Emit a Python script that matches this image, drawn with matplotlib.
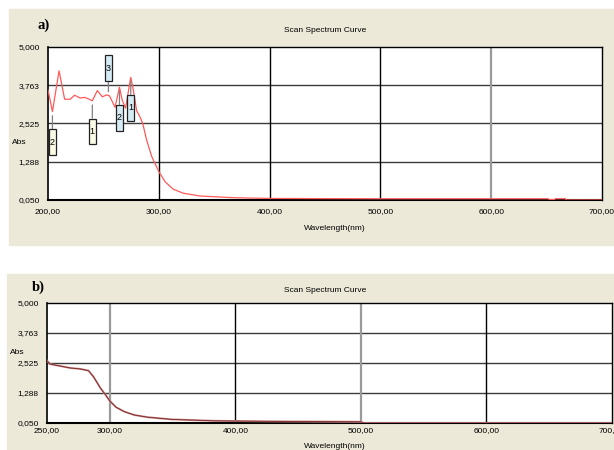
import numpy as np
import matplotlib.pyplot as plt
from matplotlib.patches import Rectangle
from matplotlib.ticker import FuncFormatter

# panel a) spectrum, 200-700 nm
wl_a = [200, 204, 210, 215, 220, 224, 229, 233, 236, 240, 244.5, 249, 253, 255.5,
        260.5, 264.5, 267, 270, 274.7, 277, 280, 283, 285.5, 289, 293.7, 300,
        305.7, 313, 322, 337, 367, 400, 450, 500, 550, 600, 651, 653, 657, 658,
        667, 668, 700]
abs_a = [3.61, 2.91, 4.23, 3.31, 3.31, 3.44, 3.35, 3.37, 3.33, 3.26, 3.59, 3.39,
         3.45, 3.42, 3.05, 3.70, 3.28, 3.02, 4.02, 3.61, 2.94, 2.74, 2.53, 1.99,
         1.45, 0.97, 0.64, 0.40, 0.27, 0.18, 0.125, 0.10, 0.095, 0.09, 0.09,
         0.09, 0.09, 0.065, 0.065, 0.09, 0.09, 0.05, 0.05]

# peak / valley markers in panel a)
mark_wl = [204, 240, 254.5, 264.5, 274.7]
mark_abs = [2.91, 3.26, 3.42, 3.70, 4.02]
mark_lbl = ["2", "1", "3", "2", "1"]
mark_kind = ["valley", "valley", "peak", "peak", "peak"]

# panel b) spectrum, 250-700 nm
wl_b = [250, 252.4, 260.5, 268.5, 276.6, 283, 287, 292.7, 296.8, 300, 305, 311.5,
        319.5, 330, 349, 383, 420, 460, 500, 502, 600, 700]
abs_b = [2.62, 2.48, 2.40, 2.32, 2.28, 2.21, 1.96, 1.48, 1.20, 0.96, 0.70, 0.52,
         0.38, 0.29, 0.20, 0.14, 0.12, 0.11, 0.10, 0.05, 0.05, 0.05]

yticks = [0.050, 1.288, 2.525, 3.763, 5.000]
xticks_a = [200, 300, 400, 500, 600, 700]
xticks_b = [250, 300, 400, 500, 600, 700]

W, H = 614, 450
BEIGE = "#ECE9D8"
SANS = "Liberation Sans"
FS = 6


def comma(v, pos):
    return ("%.3f" % v).replace(".", ",")


def comma2(v, pos):
    return ("%.2f" % v).replace(".", ",")


def px_axes(fig, left, top, right, bottom):
    return fig.add_axes([left / W, 1 - bottom / H, (right - left) / W, (bottom - top) / H])


def style_axes(ax, xlim, xticks, grid_colors):
    ax.set_xlim(*xlim)
    ax.set_ylim(0.05, 5.0)
    ax.set_xticks(xticks)
    ax.set_yticks(yticks)
    ax.xaxis.set_major_formatter(FuncFormatter(comma2))
    ax.yaxis.set_major_formatter(FuncFormatter(comma))
    ax.tick_params(length=0, labelsize=FS, pad=6)
    for lab in ax.get_xticklabels() + ax.get_yticklabels():
        lab.set_family(SANS)
    for y in yticks[1:-1]:
        ax.axhline(y, color="#3c3c3c", lw=1.0, zorder=1)
    for x, c in zip(xticks[1:-1], grid_colors):
        ax.axvline(x, color=c, lw=1.0 if c == "black" else 1.6, zorder=1)
    for s in ax.spines.values():
        s.set_color("black")
        s.set_linewidth(1.0)
    ax.spines["bottom"].set_linewidth(1.5)
    ax.spines["left"].set_linewidth(1.2)
    ax.set_facecolor("white")


fig = plt.figure(figsize=(W / 100, H / 100), dpi=100)
fig.patch.set_facecolor("white")
fig.add_artist(Rectangle((9 / W, 1 - 245 / H), (W - 9) / W, 236 / H,
                         transform=fig.transFigure, color=BEIGE, zorder=0))
fig.add_artist(Rectangle((7 / W, 0), (W - 7) / W, 1 - 274 / H,
                         transform=fig.transFigure, color=BEIGE, zorder=0))

# ---- panel a
ax1 = px_axes(fig, 48, 47, 602, 200)
style_axes(ax1, (200, 700), xticks_a, ["black", "black", "black", "#9a9a9a"])
ax1.plot(wl_a, abs_a, color="#FF5A5A", lw=0.9, zorder=3)
for w, a, lbl, kind in zip(mark_wl, mark_abs, mark_lbl, mark_kind):
    if kind == "peak" and lbl == "3":
        dy = 20
        fc = "#D6ECF4"
    elif kind == "peak":
        dy = -22
        fc = "#D6ECF4"
    else:
        dy = -22
        fc = "#FBFBE6"
    ax1.annotate("\n" + lbl + "\n", xy=(w, a), xytext=(0, dy), textcoords="offset points",
                 ha="center", va="center", fontsize=6.5, family=SANS, linespacing=0.75,
                 bbox=dict(boxstyle="square,pad=0.12", fc=fc, ec="#222222", lw=0.9),
                 arrowprops=dict(arrowstyle="-", color="#808080", lw=0.9,
                                 shrinkA=0, shrinkB=3), zorder=5)

fig.text(38 / W, 1 - 25 / H, "a)", family="Liberation Serif", weight="bold",
         fontsize=10.5, va="center", ha="left")
fig.text(325 / W, 1 - 31 / H, "Scan Spectrum Curve", family=SANS, fontsize=FS,
         ha="center", va="center")
fig.text(12 / W, 1 - 143 / H, "Abs", family=SANS, fontsize=FS, ha="left", va="center")
fig.text(335 / W, 1 - 229 / H, "Wavelength(nm)", family=SANS, fontsize=FS,
         ha="center", va="center")

# ---- panel b
ax2 = px_axes(fig, 47, 303, 612, 423)
style_axes(ax2, (250, 700), xticks_b, ["#9a9a9a", "black", "#9a9a9a", "black"])
ax2.plot(wl_b, abs_b, color="#C98A8A", lw=1.4, zorder=3)
ax2.plot(wl_b, abs_b, color="#7A2525", lw=0.6, zorder=4)
ax2.tick_params(axis="x", pad=3)

fig.text(32 / W, 1 - 287 / H, "b)", family="Liberation Serif", weight="bold",
         fontsize=10.5, va="center", ha="left")
fig.text(325 / W, 1 - 290 / H, "Scan Spectrum Curve", family=SANS, fontsize=FS,
         ha="center", va="center")
fig.text(10 / W, 1 - 352 / H, "Abs", family=SANS, fontsize=FS, ha="left", va="center")
fig.text(335 / W, 1 - 446 / H, "Wavelength(nm)", family=SANS, fontsize=FS,
         ha="center", va="center")

fig.savefig("out.png", dpi=100)
